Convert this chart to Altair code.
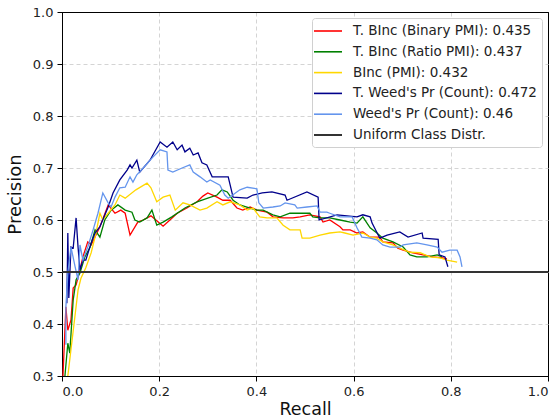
import altair as alt
import pandas as pd

# ---- data (recall, precision) ----
red_x = [0.002, 0.008, 0.012, 0.0185, 0.023, 0.029, 0.037, 0.043, 0.053, 0.060, 0.078, 0.095, 0.109, 0.121, 0.130, 0.140, 0.156, 0.167, 0.183, 0.198, 0.208, 0.222, 0.237, 0.257, 0.278, 0.290, 0.300, 0.319, 0.331, 0.346, 0.360, 0.372, 0.387, 0.401, 0.422, 0.434, 0.455, 0.475, 0.490, 0.510, 0.531, 0.537, 0.551, 0.572, 0.578, 0.593, 0.607, 0.619, 0.634, 0.654, 0.660, 0.681, 0.691, 0.702, 0.722, 0.743, 0.763, 0.784, 0.792]
red_y = [0.300, 0.433, 0.388, 0.408, 0.469, 0.475, 0.504, 0.529, 0.558, 0.552, 0.587, 0.629, 0.613, 0.619, 0.613, 0.571, 0.596, 0.600, 0.608, 0.596, 0.588, 0.600, 0.613, 0.623, 0.635, 0.646, 0.652, 0.644, 0.638, 0.638, 0.623, 0.619, 0.625, 0.619, 0.615, 0.606, 0.604, 0.604, 0.606, 0.610, 0.606, 0.596, 0.600, 0.587, 0.581, 0.581, 0.575, 0.577, 0.567, 0.567, 0.558, 0.556, 0.546, 0.542, 0.537, 0.533, 0.529, 0.527, 0.525]

green_x = [0.006, 0.012, 0.016, 0.023, 0.029, 0.037, 0.047, 0.058, 0.068, 0.078, 0.088, 0.101, 0.115, 0.130, 0.144, 0.150, 0.160, 0.175, 0.185, 0.195, 0.208, 0.226, 0.253, 0.278, 0.300, 0.319, 0.329, 0.340, 0.352, 0.366, 0.387, 0.401, 0.414, 0.434, 0.449, 0.469, 0.490, 0.510, 0.516, 0.531, 0.551, 0.572, 0.593, 0.607, 0.619, 0.634, 0.648, 0.660, 0.681, 0.702, 0.716, 0.730, 0.751, 0.772, 0.782]
green_y = [0.300, 0.363, 0.344, 0.446, 0.485, 0.498, 0.529, 0.548, 0.581, 0.567, 0.600, 0.619, 0.629, 0.619, 0.615, 0.600, 0.596, 0.604, 0.619, 0.590, 0.596, 0.606, 0.623, 0.635, 0.642, 0.648, 0.658, 0.654, 0.638, 0.629, 0.623, 0.619, 0.619, 0.610, 0.606, 0.613, 0.613, 0.613, 0.606, 0.604, 0.604, 0.600, 0.596, 0.594, 0.606, 0.585, 0.575, 0.565, 0.558, 0.548, 0.533, 0.529, 0.529, 0.533, 0.529]

gold_x = [0.012, 0.033, 0.039, 0.049, 0.060, 0.070, 0.078, 0.084, 0.095, 0.109, 0.119, 0.130, 0.152, 0.175, 0.183, 0.195, 0.208, 0.222, 0.233, 0.249, 0.263, 0.284, 0.298, 0.319, 0.331, 0.346, 0.366, 0.381, 0.393, 0.407, 0.422, 0.442, 0.455, 0.469, 0.490, 0.494, 0.510, 0.531, 0.551, 0.572, 0.582, 0.599, 0.619, 0.634, 0.648, 0.660, 0.681, 0.695, 0.716, 0.737, 0.757, 0.778, 0.792, 0.813]
gold_y = [0.300, 0.465, 0.488, 0.508, 0.537, 0.575, 0.613, 0.600, 0.613, 0.629, 0.648, 0.642, 0.658, 0.671, 0.662, 0.635, 0.644, 0.648, 0.619, 0.633, 0.629, 0.619, 0.623, 0.635, 0.629, 0.635, 0.629, 0.619, 0.623, 0.606, 0.604, 0.604, 0.590, 0.581, 0.581, 0.565, 0.565, 0.571, 0.575, 0.577, 0.575, 0.571, 0.575, 0.567, 0.565, 0.558, 0.552, 0.546, 0.538, 0.537, 0.529, 0.527, 0.523, 0.519]

navy_x = [0.010, 0.012, 0.014, 0.0185, 0.023, 0.029, 0.033, 0.037, 0.043, 0.049, 0.060, 0.068, 0.078, 0.095, 0.105, 0.119, 0.134, 0.140, 0.144, 0.154, 0.160, 0.181, 0.202, 0.216, 0.228, 0.237, 0.247, 0.253, 0.263, 0.270, 0.280, 0.288, 0.298, 0.309, 0.342, 0.352, 0.381, 0.393, 0.412, 0.432, 0.459, 0.463, 0.504, 0.527, 0.529, 0.566, 0.607, 0.619, 0.634, 0.638, 0.654, 0.669, 0.695, 0.712, 0.741, 0.743, 0.774, 0.776, 0.788, 0.794]
navy_y = [0.440, 0.575, 0.450, 0.548, 0.546, 0.604, 0.548, 0.504, 0.523, 0.523, 0.556, 0.575, 0.587, 0.625, 0.652, 0.677, 0.696, 0.706, 0.700, 0.715, 0.692, 0.715, 0.750, 0.740, 0.750, 0.735, 0.744, 0.731, 0.738, 0.725, 0.729, 0.710, 0.706, 0.683, 0.683, 0.644, 0.642, 0.648, 0.652, 0.654, 0.648, 0.638, 0.654, 0.644, 0.600, 0.610, 0.606, 0.610, 0.606, 0.594, 0.565, 0.571, 0.577, 0.567, 0.575, 0.565, 0.563, 0.533, 0.529, 0.510]

light_x = [0.008, 0.008, 0.012, 0.0185, 0.027, 0.033, 0.037, 0.043, 0.053, 0.064, 0.074, 0.084, 0.095, 0.101, 0.109, 0.119, 0.130, 0.140, 0.146, 0.154, 0.167, 0.187, 0.202, 0.216, 0.218, 0.228, 0.247, 0.263, 0.270, 0.284, 0.298, 0.305, 0.325, 0.335, 0.342, 0.366, 0.381, 0.401, 0.405, 0.414, 0.434, 0.449, 0.459, 0.479, 0.484, 0.504, 0.525, 0.531, 0.545, 0.551, 0.572, 0.597, 0.607, 0.617, 0.634, 0.648, 0.660, 0.675, 0.695, 0.702, 0.730, 0.751, 0.772, 0.782, 0.798, 0.813, 0.819, 0.823]
light_y = [0.360, 0.433, 0.498, 0.548, 0.510, 0.485, 0.552, 0.523, 0.548, 0.581, 0.613, 0.652, 0.633, 0.625, 0.644, 0.662, 0.663, 0.683, 0.673, 0.687, 0.700, 0.721, 0.735, 0.731, 0.696, 0.692, 0.700, 0.706, 0.692, 0.683, 0.673, 0.677, 0.667, 0.648, 0.642, 0.658, 0.663, 0.660, 0.633, 0.623, 0.625, 0.627, 0.633, 0.629, 0.623, 0.625, 0.627, 0.615, 0.615, 0.613, 0.606, 0.606, 0.585, 0.567, 0.565, 0.562, 0.552, 0.548, 0.548, 0.552, 0.556, 0.552, 0.548, 0.538, 0.542, 0.542, 0.529, 0.510]

uniform_x = [0.0, 1.0]
uniform_y = [0.5, 0.5]

names = [
    "T. BInc (Binary PMI): 0.435",
    "T. BInc (Ratio PMI): 0.437",
    "BInc (PMI): 0.432",
    "T. Weed's Pr (Count): 0.472",
    "Weed's Pr (Count): 0.46",
    "Uniform Class Distr.",
]
colors = ["#ff0000", "#008000", "#ffd700", "#00008b", "#6495ed", "#000000"]

x_ticks = [0.0, 0.2, 0.4, 0.6, 0.8, 1.0]
y_ticks = [0.3, 0.4, 0.5, 0.6, 0.7, 0.8, 0.9, 1.0]

series = [(red_x, red_y), (green_x, green_y), (gold_x, gold_y),
          (navy_x, navy_y), (light_x, light_y), (uniform_x, uniform_y)]

rows = []
for k, (name, (xs, ys)) in enumerate(zip(names, series)):
    for i, (x, y) in enumerate(zip(xs, ys)):
        rows.append({"series": name, "k": k, "i": i, "recall": x, "precision": y})
df = pd.DataFrame(rows)

font = "DejaVu Sans"

xscale = alt.Scale(domain=[0, 1], nice=False, zero=False)
yscale = alt.Scale(domain=[0.3, 1.0], nice=False, zero=False)

edge_test = "datum.value == 0 || datum.value == 1 || datum.value == 0.3"
grid_color = {"condition": {"test": edge_test, "value": "black"}, "value": "#d4d4d4"}
grid_dash = {"condition": {"test": edge_test, "value": []}, "value": [4, 3]}

xaxis = alt.Axis(title="Recall", values=x_ticks, format=".1f", titlePadding=2,
                 titleFontSize=17.5, labelPadding=4,
                 gridColor=grid_color, gridDash=grid_dash)
yaxis = alt.Axis(title="Precision", values=y_ticks, format=".1f", titlePadding=8,
                 labelPadding=4, gridColor=grid_color, gridDash=grid_dash)

lines = alt.Chart(df).mark_line(strokeWidth=1.3, clip=True).encode(
    x=alt.X("recall:Q", scale=xscale, axis=xaxis),
    y=alt.Y("precision:Q", scale=yscale, axis=yaxis),
    color=alt.Color("series:N", sort=names,
                    scale=alt.Scale(domain=names, range=colors),
                    legend=alt.Legend(title=None, orient="top-right", offset=6,
                                      symbolType="M-2,0H2", symbolSize=196,
                                      symbolStrokeWidth=1.6, symbolOffset=3,
                                      labelFontSize=13.5,
                                      labelFont=font, labelColor="#222",
                                      labelOffset=17, rowPadding=5.8,
                                      padding=5, fillColor="white",
                                      strokeColor="#d0d0d0", cornerRadius=3,
                                      labelLimit=400)),
    detail="k:O",
    order="i:Q",
)

uniform_df = pd.DataFrame({"level": [uniform_y[0]]})
rule = alt.Chart(uniform_df).mark_rule(color="#333333", strokeWidth=2, opacity=0.85).encode(
    y=alt.Y("level:Q", scale=yscale)
)

chart = alt.layer(lines, rule).properties(
    width=486, height=364,
    autosize=alt.AutoSizeParams(type="none"),
    padding={"left": 62, "top": 12, "right": 12, "bottom": 43},
).configure_view(
    stroke="black", strokeWidth=1
).configure_axis(
    grid=True, gridWidth=1,
    domainColor="black", tickColor="black", tickSize=5,
    labelFont=font, labelFontSize=13, labelColor="#222",
    titleFont=font, titleFontSize=18, titleFontWeight="normal", titleColor="#111",
)

chart.save("out.html", embed_options={"renderer": "svg", "actions": False})
